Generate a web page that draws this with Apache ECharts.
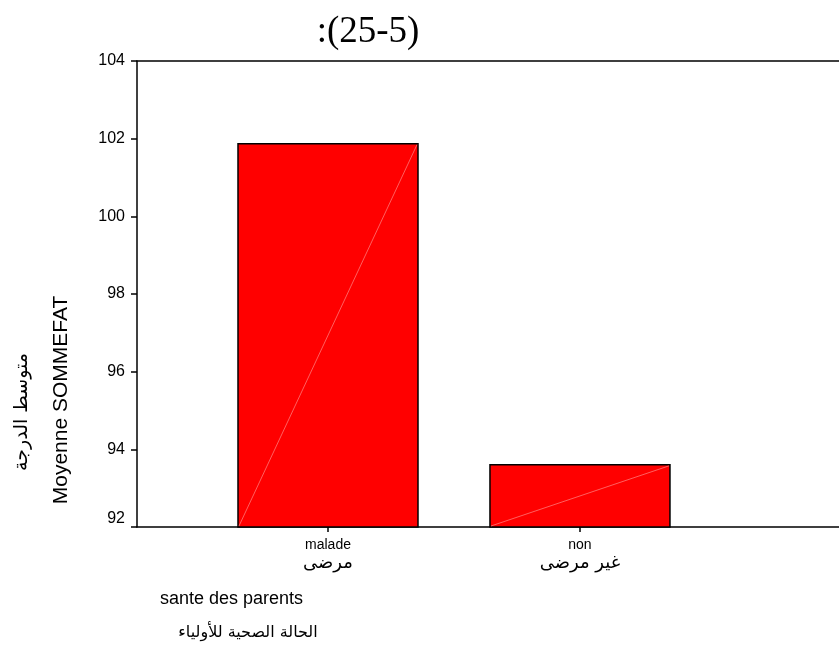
<!doctype html>
<html lang="ar">

<head>
    <meta charset="UTF-8">
    <title>sante des parents</title>
    <script src="https://cdn.jsdelivr.net/npm/echarts@6/dist/echarts.min.js"></script>
</head>
<style>
    html, body {
        margin: 0;
        padding: 0;
        background: #fff;
    }
    #chart {
        width: 839px;
        height: 647px;
    }
</style>
<body>
    <div id="chart"></div>
</body>
<script>
    // ===== data =====
    var categories = ['malade', 'non'];
    var categoriesAr = ['مرضى', 'غير مرضى'];
    var positions = [1, 2];
    var means = [101.87, 93.6];
    var yMin = 92, yMax = 104, yStep = 2;

    var latFont = '"Liberation Sans", Arial, sans-serif';
    var arFont = '"DejaVu Sans", "Noto Sans", sans-serif';

    var chart = echarts.init(document.getElementById('chart'));

    var seriesData = [];
    for (var i = 0; i < categories.length; i++) {
        seriesData.push([positions[i], means[i]]);
    }

    var option = {
        backgroundColor: '#fff',
        animation: false,
        title: {
            text: ':(25-5)',
            left: 363,
            textAlign: 'center',
            top: 9,
            textStyle: {
                fontFamily: '"Liberation Serif", "DejaVu Serif", serif',
                fontWeight: 'normal',
                fontSize: 37,
                color: '#000'
            }
        },
        grid: {
            left: 137,
            right: 0,
            top: 61,
            bottom: 120
        },
        xAxis: [{
            type: 'value',
            min: 0.242,
            max: 3.028,
            splitLine: { show: false },
            axisLine: { lineStyle: { color: '#000', width: 1.5 } },
            axisTick: {
                customValues: positions,
                length: 5,
                lineStyle: { color: '#000', width: 1.5 }
            },
            axisLabel: {
                customValues: positions,
                margin: 11,
                formatter: function (v) {
                    var i = positions.indexOf(Math.round(v));
                    if (i < 0) return '';
                    return '{a|' + categories[i] + '}\n{b|' + categoriesAr[i] + '}';
                },
                rich: {
                    a: { fontFamily: latFont, fontSize: 14, color: '#000', lineHeight: 15 },
                    b: { fontFamily: arFont, fontSize: 18, color: '#000', lineHeight: 21 }
                }
            }
        }, {
            type: 'value',
            position: 'top',
            min: 0.242,
            max: 3.028,
            splitLine: { show: false },
            axisLine: { lineStyle: { color: '#000', width: 1.5 } },
            axisTick: { show: false },
            axisLabel: { show: false }
        }],
        yAxis: {
            type: 'value',
            min: yMin,
            max: yMax,
            interval: yStep,
            splitLine: { show: false },
            axisLine: { show: true, lineStyle: { color: '#000', width: 1.5 } },
            axisTick: { show: true, length: 6, lineStyle: { color: '#000', width: 1.5 } },
            axisLabel: {
                margin: 12,
                fontFamily: latFont,
                fontSize: 16,
                color: '#000',
                formatter: function (v) {
                    return v === yMin ? '{low|' + v + '}' : v;
                },
                rich: {
                    low: { fontFamily: latFont, fontSize: 16, color: '#000', padding: [0, 0, 16, 0] }
                }
            }
        },
        graphic: [
            {
                type: 'text',
                x: 61, y: 400, rotation: Math.PI / 2,
                style: {
                    text: 'Moyenne SOMMEFAT',
                    fontFamily: latFont,
                    fontSize: 21, fill: '#000',
                    align: 'center', verticalAlign: 'middle'
                }
            },
            {
                type: 'text',
                x: 22, y: 412, rotation: Math.PI / 2,
                style: {
                    text: 'متوسط الدرجة',
                    fontFamily: arFont,
                    fontSize: 19, fill: '#000',
                    align: 'center', verticalAlign: 'middle'
                }
            },
            {
                type: 'text',
                x: 160, y: 599,
                style: {
                    text: 'sante des parents',
                    fontFamily: latFont,
                    fontSize: 18, fill: '#000',
                    align: 'left', verticalAlign: 'middle'
                }
            },
            {
                type: 'text',
                x: 248, y: 633,
                style: {
                    text: 'الحالة الصحية للأولياء',
                    fontFamily: arFont,
                    fontSize: 16, fill: '#000',
                    align: 'center', verticalAlign: 'middle'
                }
            }
        ],
        series: [{
            type: 'custom',
            data: seriesData,
            renderItem: function (params, api) {
                var top = api.coord([api.value(0), api.value(1)]);
                var base = api.coord([api.value(0), yMin]);
                var half = 90;
                return {
                    type: 'group',
                    children: [{
                        type: 'rect',
                        shape: { x: top[0] - half, y: top[1], width: half * 2, height: base[1] - top[1] },
                        style: { fill: '#ff0000', stroke: '#000', lineWidth: 1.5 }
                    }, {
                        type: 'line',
                        shape: { x1: base[0] - half + 1, y1: base[1] - 1, x2: top[0] + half - 1, y2: top[1] + 1 },
                        style: { stroke: 'rgba(255,150,150,0.8)', lineWidth: 0.8 }
                    }]
                };
            }
        }]
    };
    chart.setOption(option);
</script>

</html>
